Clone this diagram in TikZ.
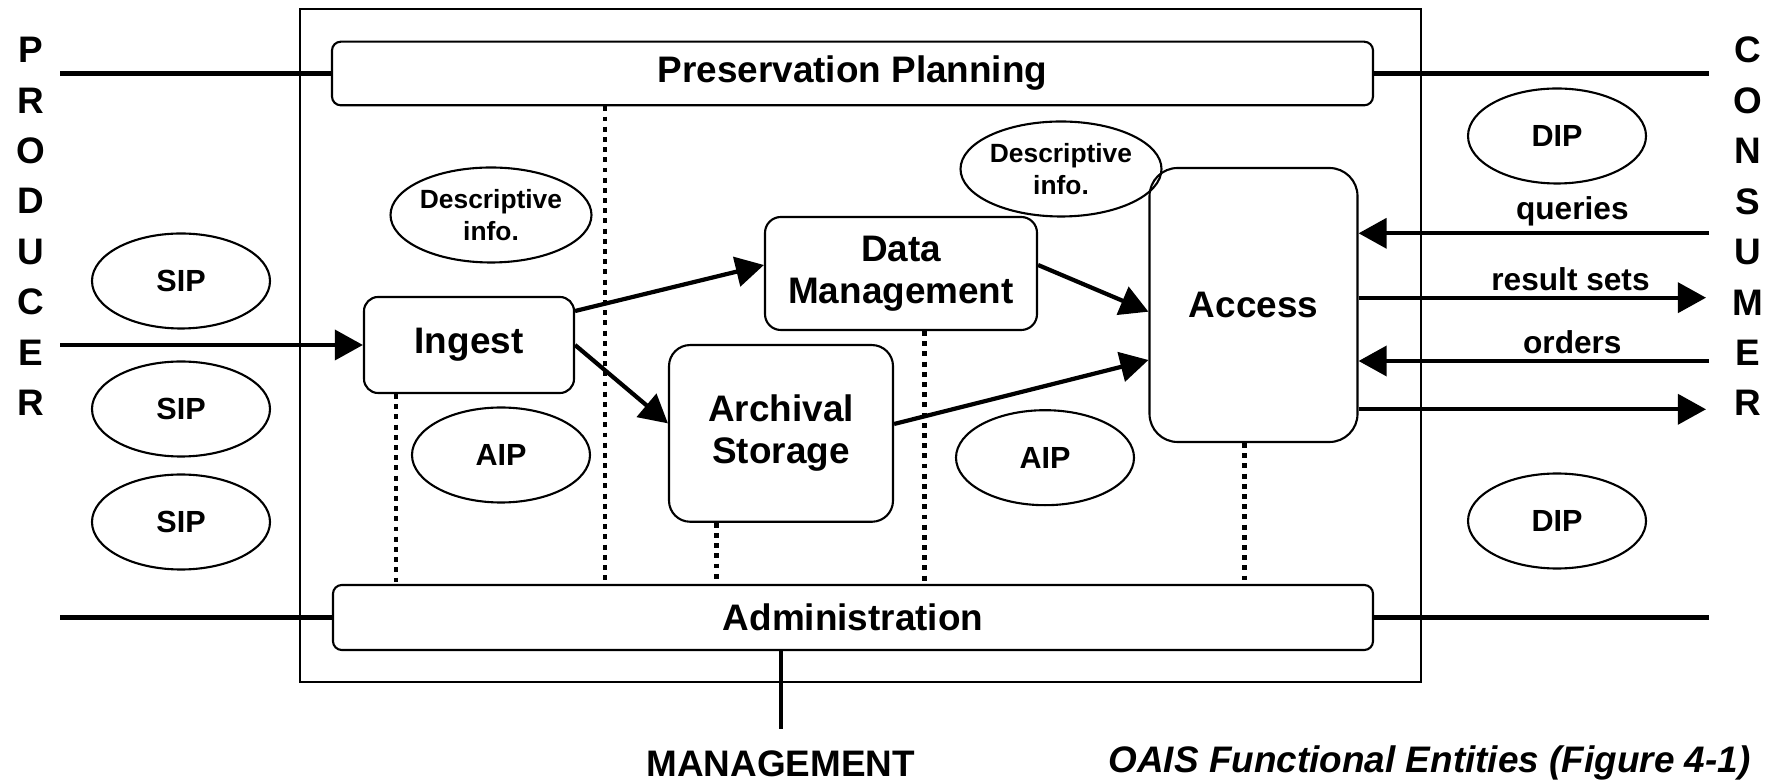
\documentclass[tikz,border=0pt]{standalone}
\usepackage{fontspec}
\setmainfont{Liberation Sans}
\usepackage{tikz}
\usetikzlibrary{arrows.meta, positioning, shapes.geometric}

\newcommand{\biglbl}{\fontsize{10.5}{12}\selectfont\bfseries}
\newcommand{\letterlbl}{\fontsize{10.5}{14.35}\selectfont\bfseries}
\newcommand{\pkglbl}{\fontsize{8.7}{10}\selectfont\bfseries}
\newcommand{\flowlbl}{\fontsize{9}{10}\selectfont\bfseries}
\newcommand{\infolbl}{\fontsize{7.5}{9}\selectfont\bfseries}

\tikzset{
    entity/.style={draw, line width=0.6pt, align=center, inner sep=0pt, font=\biglbl},
    package/.style={ellipse, draw, line width=0.6pt, minimum width=1.78cm, minimum height=0.95cm, inner sep=0pt, align=center, font=\pkglbl},
    infobox/.style={package, minimum width=1.84cm, minimum height=0.95cm, font=\infolbl},
    flow/.style={line width=1.2pt, -{Triangle[length=8pt, width=8.5pt]}},
    wire/.style={line width=1.2pt},
    dotline/.style={line width=1.4pt, dash pattern=on 1.4pt off 1.5pt},
}

\begin{document}
\begin{tikzpicture}
    \useasboundingbox (0,0) rectangle (17.73,-7.83);

    % OAIS frame
    \draw[line width=0.55pt] (3.004,-0.093) rectangle (14.214,-6.817);

    % Functional entities
    \node[entity, rounded corners=2.5pt, minimum width=10.41cm, minimum height=0.636cm] (plan) at (8.525,-0.735) {Preservation Planning};
    \node[entity, rounded corners=2.5pt, minimum width=10.4cm, minimum height=0.65cm] (admin) at (8.53,-6.175) {Administration};
    \node[entity, rounded corners=4pt, minimum width=2.10cm, minimum height=0.96cm] (ingest) at (4.69,-3.45) {Ingest};
    \node[entity, rounded corners=4.5pt, minimum width=2.72cm, minimum height=1.13cm] (dm) at (9.01,-2.735) {Data\\Management};
    \node[entity, rounded corners=6pt, minimum width=2.24cm, minimum height=1.767cm] (as) at (7.81,-4.334) {Archival\\Storage};
    \node[entity, rounded corners=8pt, minimum width=2.08cm, minimum height=2.74cm] (access) at (12.535,-3.05) {Access};

    % Information packages
    \node[package] (sip1) at (1.81,-2.81) {SIP};
    \node[package] (sip2) at (1.81,-4.09) {SIP};
    \node[package] (sip3) at (1.81,-5.22) {SIP};
    \node[infobox] (info1) at (4.91,-2.15) {Descriptive\\info.};
    \node[infobox] (info2) at (10.61,-1.69) {Descriptive\\info.};
    \node[package] (aip1) at (5.01,-4.55) {AIP};
    \node[package] (aip2) at (10.45,-4.577) {AIP};
    \node[package] (dip1) at (15.57,-1.36) {DIP};
    \node[package] (dip2) at (15.57,-5.21) {DIP};

    % Outside parties
    \node[font=\letterlbl, align=center] (producer) at (0.305,-2.265) {P\\R\\O\\D\\U\\C\\E\\R};
    \node[font=\letterlbl, align=center] (consumer) at (17.48,-2.265) {C\\O\\N\\S\\U\\M\\E\\R};
    \node[font=\biglbl] (mgmt) at (7.807,-7.633) {MANAGEMENT};
    \node[font=\biglbl\itshape] (caption) at (14.295,-7.633) {OAIS Functional Entities (Figure 4-1)};

    % Free ends
    \coordinate (prodTop) at (0.60,-0.735);
    \coordinate (consTop) at (17.09,-0.735);
    \coordinate (prodBot) at (0.60,-6.175);
    \coordinate (consBot) at (17.09,-6.175);
    \coordinate (prodIn) at (0.60,-3.45);
    \coordinate (qSrc) at (17.09,-2.333);
    \coordinate (rDst) at (17.06,-2.977);
    \coordinate (oSrc) at (17.09,-3.61);
    \coordinate (dDst) at (17.06,-4.093);
    \coordinate (mgmtEnd) at (7.807,-7.293);

    % Plain links
    \draw[wire] (prodTop) -- (plan.west);
    \draw[wire] (plan.east) -- (consTop);
    \draw[wire] (prodBot) -- (admin.west);
    \draw[wire] (admin.east) -- (consBot);
    \draw[wire] (admin.south -| mgmtEnd) -- (mgmtEnd);

    % Data flows
    \draw[flow] (prodIn) -- (ingest.west);
    \draw[flow] ([yshift=0.34cm]ingest.east) -- ([yshift=0.085cm]dm.west);
    \draw[flow] (ingest.east) -- ([yshift=0.1cm]as.west);
    \draw[flow] ([yshift=0.085cm]dm.east) -- ([yshift=-0.067cm]access.west);
    \draw[flow] ([yshift=0.094cm]as.east) -- ([yshift=-0.55cm]access.west);
    \draw[flow] (qSrc) -- (access.east |- qSrc) node[pos=0.39, above, inner sep=1.5pt, font=\flowlbl] {queries};
    \draw[flow] (access.east |- rDst) -- (rDst) node[pos=0.61, above, inner sep=1.5pt, font=\flowlbl] {result sets};
    \draw[flow] (oSrc) -- (access.east |- oSrc) node[pos=0.39, above, inner sep=1.5pt, font=\flowlbl] {orders};
    \draw[flow] (access.east |- dDst) -- (dDst);

    % Links to administration
    \draw[dotline] ([xshift=-0.73cm]ingest.south) -- ([xshift=-0.73cm]ingest.south |- admin.north);
    \draw[dotline] ([xshift=-2.475cm]plan.south) -- ([xshift=-2.475cm]plan.south |- admin.north);
    \draw[dotline] ([xshift=-0.646cm]as.south) -- ([xshift=-0.646cm]as.south |- admin.north);
    \draw[dotline] ([xshift=0.234cm]dm.south) -- ([xshift=0.234cm]dm.south |- admin.north);
    \draw[dotline] ([xshift=-0.09cm]access.south) -- ([xshift=-0.09cm]access.south |- admin.north);
\end{tikzpicture}
\end{document}
